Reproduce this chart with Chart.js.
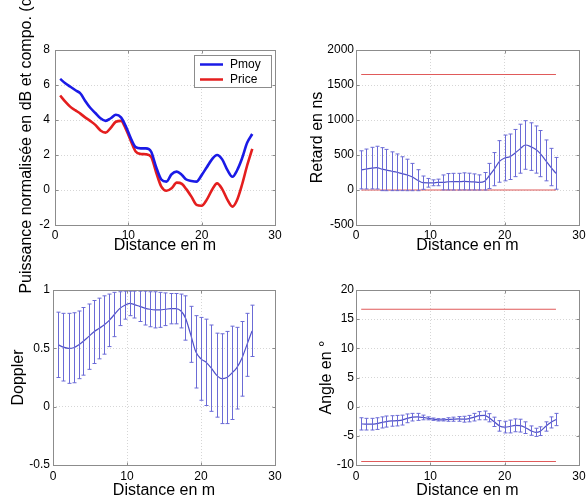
<!DOCTYPE html>
<html lang="fr">
<head>
<meta charset="UTF-8" />
<title>Puissance, retard, Doppler et angle selon la distance</title>
<script src="https://cdn.jsdelivr.net/npm/chart.js@4.4.0/dist/chart.umd.min.js"></script>
<style>
  html, body { margin: 0; padding: 0; background: #fff; overflow: hidden; }
  body { width: 586px; height: 504px; position: relative; }
  canvas { position: absolute; }
</style>
</head>
<body>
<canvas id="puissance" style="left:0px;top:0px" width="300" height="320"></canvas>
<canvas id="doppler" style="left:0px;top:255px" width="300" height="249"></canvas>
<canvas id="retard" style="left:293px;top:0px" width="310" height="260"></canvas>
<canvas id="angle" style="left:293px;top:255px" width="310" height="249"></canvas>

<script>
// distances de mesure (m)
const distances = [0.7, 1.4, 2.1, 2.8, 3.5, 4.1, 4.8, 5.5, 6.2, 6.9,
  7.6, 8.3, 9.0, 9.7, 10.4, 11.0, 11.7, 12.4, 13.1, 13.8,
  14.5, 15.2, 15.9, 16.6, 17.3, 17.9, 18.6, 19.3, 20.0, 20.7,
  21.4, 22.1, 22.8, 23.5, 24.2, 24.8, 25.5, 26.2, 26.9]

// puissance normalisée (dB)
const pmoy = [6.35, 6.1, 5.9, 5.7, 5.5, 5.1, 4.7, 4.4, 4.1, 3.95,
  4.1, 4.3, 4.15, 3.6, 2.9, 2.45, 2.38, 2.38, 2.2, 1.3,
  0.6, 0.48, 0.9, 1.05, 0.86, 0.6, 0.52, 0.48, 0.85, 1.3,
  1.75, 2.0, 1.75, 1.15, 0.76, 1.1, 1.8, 2.7, 3.2]
const price = [5.4, 5.05, 4.75, 4.55, 4.35, 4.15, 3.95, 3.72, 3.4, 3.28,
  3.55, 3.9, 3.95, 3.45, 2.75, 2.2, 2.06, 2.04, 1.9, 1.0,
  0.19, -0.04, 0.1, 0.42, 0.35, 0.05, -0.38, -0.85, -0.9, -0.55,
  0.0, 0.38, 0.05, -0.55, -0.95, -0.6, 0.3, 1.4, 2.35]

// retard (ns) : moyenne et écart
const retardMoyen = [288, 300, 313, 320, 298, 285, 268, 253, 233, 215,
  185, 140, 105, 103, 103, 108, 108, 118, 119, 119,
  123, 120, 115, 108, 125, 200, 298, 408, 458, 475,
  528, 590, 643, 620, 578, 520, 423, 328, 238]
const retardEcart = [272, 285, 297, 305, 307, 295, 277, 262, 242, 225,
  195, 150, 95, 62, 42, 47, 107, 117, 119, 119,
  122, 120, 115, 108, 125, 180, 237, 297, 327, 325,
  337, 350, 347, 340, 337, 330, 292, 267, 227]

// Doppler : moyenne et écart
const dopplerMoyen = [0.53, 0.51, 0.50, 0.505, 0.53, 0.56, 0.60, 0.64, 0.67, 0.70,
  0.74, 0.79, 0.84, 0.87, 0.885, 0.875, 0.86, 0.845, 0.835, 0.83,
  0.83, 0.835, 0.84, 0.84, 0.82, 0.76, 0.62, 0.47, 0.41, 0.38,
  0.33, 0.27, 0.24, 0.25, 0.29, 0.33, 0.41, 0.53, 0.65]
const dopplerEcart = [0.28, 0.29, 0.30, 0.30, 0.29, 0.29, 0.28, 0.27, 0.26, 0.25,
  0.225, 0.19, 0.145, 0.12, 0.105, 0.115, 0.13, 0.145, 0.15, 0.155,
  0.15, 0.14, 0.13, 0.13, 0.145, 0.19, 0.24, 0.31, 0.355, 0.37,
  0.37, 0.36, 0.385, 0.395, 0.40, 0.35, 0.32, 0.27, 0.22]

// angle (°) : moyenne et écart
const angleMoyen = [-2.95, -3.0, -3.0, -2.9, -2.7, -2.55, -2.45, -2.4, -2.3, -2.0,
  -1.8, -1.75, -1.85, -2.0, -2.15, -2.25, -2.25, -2.2, -2.15, -2.1,
  -2.15, -2.05, -1.8, -1.55, -1.5, -1.9, -2.6, -3.3, -3.5, -3.4,
  -3.2, -3.25, -3.6, -4.1, -4.4, -4.2, -3.4, -2.7, -2.2]
const angleEcart = [1.05, 1.0, 1.0, 1.0, 0.95, 0.95, 0.9, 0.9, 0.85, 0.75,
  0.65, 0.6, 0.4, 0.25, 0.2, 0.2, 0.2, 0.3, 0.35, 0.4,
  0.5, 0.55, 0.65, 0.7, 0.75, 0.7, 0.8, 0.9, 1.0, 1.1,
  1.1, 1.1, 1.0, 0.8, 0.7, 0.75, 0.8, 0.95, 1.05]

// lignes rouges (seuils)
const seuilsX = [0.7, 26.9]
const retardSeuils = [1650, 0]
const angleSeuils = [16.7, -9.4]

const FONT = '"Liberation Sans", Arial, Helvetica, sans-serif'
Chart.defaults.font.family = FONT
Chart.defaults.color = '#000'
Chart.defaults.animation = false
Chart.defaults.plugins.legend.display = false
Chart.defaults.plugins.tooltip.enabled = false

const BLEU_ERR = '#6b6bd6'
const ROUGE_SEUIL = '#e05a5a'

function points(ys) {
  return ys.map((y, i) => ({ x: distances[i], y: y }))
}

function ligneSeuil(v) {
  return {
    data: seuilsX.map(x => ({ x: x, y: v })),
    borderColor: ROUGE_SEUIL,
    borderWidth: 1.2,
    pointRadius: 0
  }
}

// barres d'erreur dessinées à partir des échelles du graphe
const barresErreur = {
  id: 'barresErreur',
  afterDatasetsDraw(chart) {
    const { ctx, scales } = chart
    chart.data.datasets.forEach(ds => {
      if (!ds.ecarts) return
      ctx.save()
      ctx.strokeStyle = BLEU_ERR
      ctx.lineWidth = 1
      ds.data.forEach((p, i) => {
        const px = Math.round(scales.x.getPixelForValue(p.x)) + 0.5
        const haut = scales.y.getPixelForValue(p.y + ds.ecarts[i])
        const bas = scales.y.getPixelForValue(p.y - ds.ecarts[i])
        ctx.beginPath()
        ctx.moveTo(px, haut)
        ctx.lineTo(px, bas)
        ctx.moveTo(px - 2, haut)
        ctx.lineTo(px + 2, haut)
        ctx.moveTo(px - 2, bas)
        ctx.lineTo(px + 2, bas)
        ctx.stroke()
      })
      ctx.restore()
    })
  }
}

// cadre + petites graduations intérieures (style matlab)
const cadre = {
  id: 'cadre',
  afterDraw(chart) {
    const { ctx, chartArea: a, scales } = chart
    const l = Math.round(a.left) + 0.5, r = Math.round(a.right) + 0.5
    const t = Math.round(a.top) + 0.5, b = Math.round(a.bottom) + 0.5
    ctx.save()
    ctx.strokeStyle = '#8c8c8c'
    ctx.lineWidth = 1
    ctx.strokeRect(l, t, r - l, b - t)
    ctx.beginPath()
    scales.x.ticks.forEach(tk => {
      const px = Math.round(scales.x.getPixelForValue(tk.value)) + 0.5
      ctx.moveTo(px, b); ctx.lineTo(px, b - 3)
      ctx.moveTo(px, t); ctx.lineTo(px, t + 3)
    })
    scales.y.ticks.forEach(tk => {
      const py = Math.round(scales.y.getPixelForValue(tk.value)) + 0.5
      ctx.moveTo(l, py); ctx.lineTo(l + 3, py)
      ctx.moveTo(r, py); ctx.lineTo(r - 3, py)
    })
    ctx.stroke()
    ctx.restore()
  }
}

const legende = {
  id: 'legende',
  afterDraw(chart) {
    const ctx = chart.ctx
    ctx.save()
    ctx.fillStyle = '#fff'
    ctx.fillRect(194, 55, 77, 32)
    ctx.strokeStyle = '#8c8c8c'
    ctx.lineWidth = 1
    ctx.strokeRect(194.5, 55.5, 77, 32)
    ctx.font = '12px ' + FONT
    ctx.textBaseline = 'middle'
    chart.data.datasets.forEach((ds, i) => {
      const y = 64.5 + i * 15
      ctx.strokeStyle = ds.borderColor
      ctx.lineWidth = 2.5
      ctx.beginPath()
      ctx.moveTo(200, y)
      ctx.lineTo(223, y)
      ctx.stroke()
      ctx.fillStyle = '#000'
      ctx.fillText(ds.label, 230, y + 0.5)
    })
    ctx.restore()
  }
}

function creerGraphe(id, zone, axeY, titreY, titreYPad, xh, titreXPad, datasets, plugins) {
  const canvas = document.getElementById(id)
  const cx = parseFloat(canvas.style.left), cy = parseFloat(canvas.style.top)
  const yw = zone.l - cx
  const padding = {
    left: 0,
    top: zone.t - cy,
    right: canvas.width - (zone.r - cx),
    bottom: canvas.height - (zone.b - cy) - xh
  }
  const grille = { color: '#d6d6d6', drawTicks: false }
  return new Chart(canvas, {
    type: 'line',
    data: { datasets: datasets },
    options: {
      responsive: false,
      layout: { padding: padding },
      elements: { line: { cubicInterpolationMode: 'monotone' } },
      scales: {
        x: {
          type: 'linear', min: 0, max: 30,
          ticks: { stepSize: 10, padding: zone.b > 300 ? 4 : 3, font: { size: 12 }, callback: v => String(v) },
          grid: grille,
          border: { display: false, dash: [1, 2] },
          title: { display: true, text: 'Distance en m', font: { size: 16 }, padding: { top: 0, bottom: titreXPad } },
          afterFit: s => { s.height = xh }
        },
        y: {
          min: axeY.min, max: axeY.max,
          ticks: { stepSize: axeY.pas, padding: axeY.pad, font: { size: 12 }, callback: v => String(v) },
          grid: grille,
          border: { display: false, dash: [1, 2] },
          title: { display: true, text: titreY, font: { size: 16 }, padding: { top: titreYPad, bottom: 0 } },
          afterFit: s => { s.width = yw }
        }
      }
    },
    plugins: plugins
  })
}

creerGraphe('puissance', { l: 55, t: 50, r: 275, b: 225 },
  { min: -2, max: 8, pas: 2, pad: 5 },
  'Puissance normalisée en dB et compo. (dB)', 17.4, 35, 4.4,
  [
    { label: 'Pmoy', data: points(pmoy), borderColor: '#1a1ae6', borderWidth: 2.6, pointRadius: 0 },
    { label: 'Price', data: points(price), borderColor: '#e41e1e', borderWidth: 2.6, pointRadius: 0 }
  ],
  [cadre, legende])

creerGraphe('retard', { l: 356, t: 50, r: 579, b: 225 },
  { min: -500, max: 2000, pas: 500, pad: 2 },
  'Retard en ns', 15.4, 35, 4.4,
  [
    ligneSeuil(retardSeuils[0]),
    ligneSeuil(retardSeuils[1]),
    { data: points(retardMoyen), ecarts: retardEcart, borderColor: '#5050c8', borderWidth: 1.2, pointRadius: 0 }
  ],
  [barresErreur, cadre])

creerGraphe('doppler', { l: 53, t: 290, r: 275, b: 465 },
  { min: -0.5, max: 1, pas: 0.5, pad: 3 },
  'Doppler', 9.4, 36, 0.4,
  [
    { data: points(dopplerMoyen), ecarts: dopplerEcart, borderColor: '#5050c8', borderWidth: 1.2, pointRadius: 0 }
  ],
  [barresErreur, cadre])

creerGraphe('angle', { l: 356, t: 290, r: 579, b: 465 },
  { min: -10, max: 20, pas: 5, pad: 2 },
  'Angle en °', 24.4, 36, 0.4,
  [
    ligneSeuil(angleSeuils[0]),
    ligneSeuil(angleSeuils[1]),
    { data: points(angleMoyen), ecarts: angleEcart, borderColor: '#5050c8', borderWidth: 1.2, pointRadius: 0 }
  ],
  [barresErreur, cadre])
</script>
</body>
</html>
